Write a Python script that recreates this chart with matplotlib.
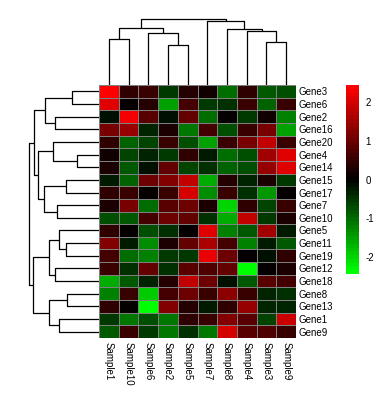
import matplotlib.pyplot as plt
import numpy as np
from matplotlib.colors import LinearSegmentedColormap

plt.rcParams['font.family'] = ['Liberation Sans', 'DejaVu Sans']

# linhas e colunas na ordem do agrupamento
genes = ['Gene3', 'Gene6', 'Gene2', 'Gene16', 'Gene20', 'Gene4', 'Gene14', 'Gene15',
         'Gene17', 'Gene7', 'Gene10', 'Gene5', 'Gene11', 'Gene19', 'Gene12', 'Gene18',
         'Gene8', 'Gene13', 'Gene1', 'Gene9']
amostras = ['Sample1', 'Sample10', 'Sample6', 'Sample2', 'Sample5', 'Sample7',
            'Sample8', 'Sample4', 'Sample3', 'Sample9']

valores = np.array([
    [2.4, 0.4, 0.5, -0.55, 0.35, 0.15, -1.0, 0.4, -0.85, -0.75],
    [2.1, 0.05, 0.3, -1.5, 0.6, -0.5, -0.4, 0.5, -0.95, 0.5],
    [-0.15, 2.3, 0.85, -0.1, 0.95, -1.05, 0.05, -0.5, 0.15, -1.25],
    [1.15, 1.45, -0.35, 0.2, -1.15, 0.65, -0.75, 0.55, 1.15, -1.55],
    [0.45, -0.95, -0.65, 0.5, -0.7, -1.55, 0.55, 1.15, 1.8, 0.5],
    [0.1, -0.6, -0.35, -0.5, 0.45, -0.2, -1.05, -0.75, 1.55, 2.15],
    [0.2, -0.85, -0.1, 0.95, -0.6, -0.4, -0.95, -0.75, 1.45, 2.1],
    [-0.25, -0.95, 1.05, 1.25, 1.8, -1.65, 0.35, -0.35, 0.2, -0.5],
    [0.4, 0.55, 0.05, 0.5, 2.0, -1.35, 0.5, -0.4, -1.45, 0.05],
    [0.25, 1.15, -1.05, 0.85, 1.05, 0.2, -2.0, 0.45, -0.65, 0.55],
    [-0.7, -0.85, 0.65, 1.05, 0.95, -0.45, -1.6, 1.8, -0.5, 0.25],
    [0.45, 0.0, -0.75, -0.45, 0.05, 2.1, -1.25, -0.85, 1.55, -0.25],
    [1.25, -0.25, -1.35, 0.25, 0.95, 1.6, 0.6, -1.2, -0.25, -0.85],
    [0.6, -1.05, -1.25, -0.55, -0.55, 2.2, 1.05, 0.05, -0.15, 0.4],
    [0.5, -0.4, 0.95, -0.4, 0.85, 0.7, 0.95, -2.45, 0.05, 0.2],
    [-1.65, -0.8, -0.3, 0.35, 1.8, 1.05, -0.15, -0.85, 0.85, 0.65],
    [-1.25, 0.5, -1.9, 0.6, 1.05, 0.55, 1.35, 0.5, -0.35, -0.4],
    [0.4, 0.0, -2.45, 1.2, 0.35, -0.2, 0.4, 1.45, -0.3, -0.35],
    [-0.55, -1.15, -0.75, -1.15, 0.45, 0.55, 1.25, 0.85, -0.65, 1.9],
    [-0.85, 0.55, -0.5, -1.15, -0.4, -1.15, 2.05, 0.85, 0.75, 0.5],
])

# fusoes dos dendrogramas: (esquerda, direita, altura), folhas na ordem exibida
fusoes_colunas = [(0, 1, 46), (3, 4, 39.7), (2, 11, 51.7), (10, 12, 56.7),
                  (8, 9, 43.3), (7, 14, 54), (6, 15, 55.7), (5, 16, 64),
                  (13, 17, 66.4)]
fusoes_linhas = [(0, 1, 26.7), (2, 3, 44), (20, 21, 53.7), (5, 6, 22), (4, 23, 45.7),
                 (7, 8, 32.7), (9, 10, 41.7), (25, 26, 54.7), (24, 27, 61.3),
                 (22, 28, 65), (12, 13, 33), (11, 30, 39.7), (14, 15, 44),
                 (31, 32, 49.7), (16, 17, 31.7), (18, 19, 39.7), (34, 35, 50.3),
                 (33, 36, 66.4), (29, 37, 69.7)]

vmin, vmax = -2.45, 2.45
cmap = LinearSegmentedColormap.from_list('gbr', ['#00FF00', '#000000', '#FF0000'], N=50)


def desenha_dendro(ax, fusoes, n, horizontal):
    pos = {i: i + 0.5 for i in range(n)}
    alt = {i: 0.0 for i in range(n)}
    for k, (a, b, h) in enumerate(fusoes):
        xs = [pos[a], pos[a], pos[b], pos[b]]
        ys = [alt[a], h, h, alt[b]]
        if horizontal:
            ax.plot(ys, xs, color='black', lw=0.9, solid_capstyle='butt')
        else:
            ax.plot(xs, ys, color='black', lw=0.9, solid_capstyle='butt')
        pos[n + k] = (pos[a] + pos[b]) / 2
        alt[n + k] = h
    ax.axis('off')


W, H = 390, 402
fig = plt.figure(figsize=(W / 100, H / 100), dpi=100)

# heatmap
x0, x1, y0, y1 = 99, 296, 86, 339
ax = fig.add_axes([x0 / W, 1 - y1 / H, (x1 - x0) / W, (y1 - y0) / H])
ax.pcolormesh(valores, cmap=cmap, vmin=vmin, vmax=vmax, edgecolors='#7f7f7f', linewidth=0.6)
ax.set_xlim(0, len(amostras))
ax.set_ylim(len(genes), 0)
ax.axis('off')
for i, g in enumerate(genes):
    ax.text(len(amostras) + 0.12, i + 0.5, g, fontsize=7, va='center', ha='left')
for j, s in enumerate(amostras):
    ax.text(j + 0.5, len(genes) + 0.25, s, fontsize=7, rotation=270, va='top', ha='center')

# dendrograma das colunas
axc = fig.add_axes([x0 / W, 1 - y0 / H, (x1 - x0) / W, (y0 - 2) / H])
desenha_dendro(axc, fusoes_colunas, len(amostras), False)
axc.set_xlim(0, len(amostras))
axc.set_ylim(0, y0 - 2)

# dendrograma das linhas
axr = fig.add_axes([0, 1 - y1 / H, x0 / W, (y1 - y0) / H])
desenha_dendro(axr, fusoes_linhas, len(genes), True)
axr.set_ylim(len(genes), 0)
axr.set_xlim(x0, 0)

# legenda de cores
cb0, cb1 = 86, 275
axl = fig.add_axes([346 / W, 1 - cb1 / H, 13 / W, (cb1 - cb0) / H])
grad = np.linspace(vmin, vmax, 50).reshape(-1, 1)
axl.imshow(grad, cmap=cmap, vmin=vmin, vmax=vmax, aspect='auto', origin='lower',
           extent=[0, 1, vmin, vmax])
axl.set_xlim(0, 1)
axl.set_ylim(vmin, vmax)
axl.axis('off')
for v in [2, 1, 0, -1, -2]:
    axl.text(1.5, v, str(v), fontsize=7, va='center', ha='left')

fig.savefig('out.png', dpi=100)
